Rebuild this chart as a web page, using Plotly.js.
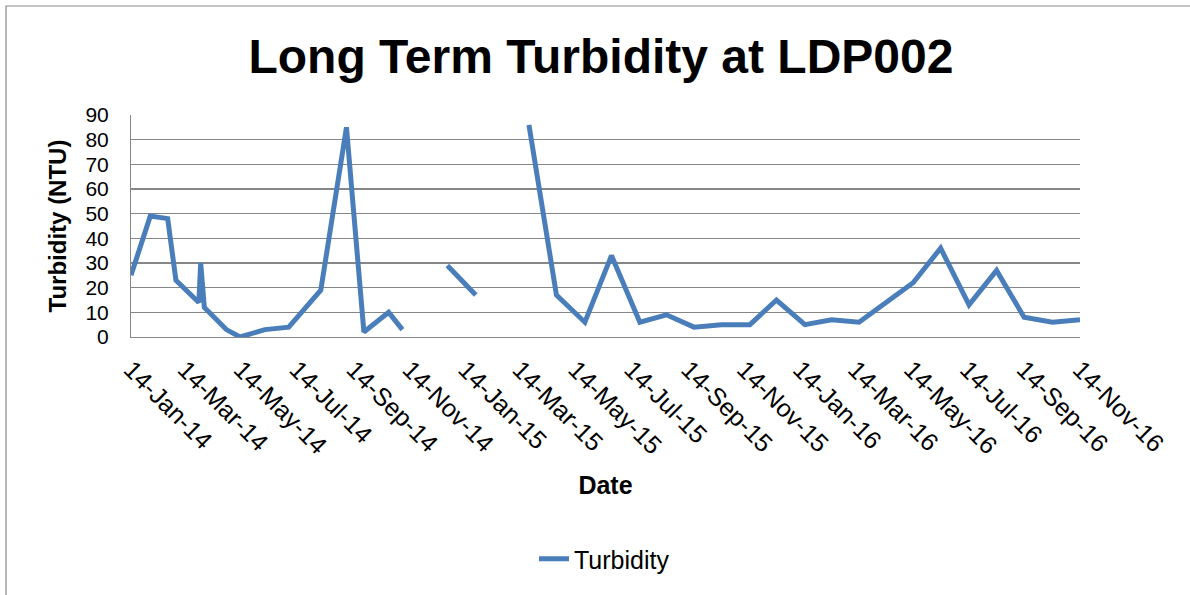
<!DOCTYPE html>
<html>
<head>
<meta charset="utf-8">
<script src="https://cdn.plot.ly/plotly-3.0.1.min.js"></script>
<style>html,body{margin:0;padding:0;background:#fff;}#chart{width:1190px;height:595px;}</style>
</head>
<body>
<div id="chart"></div>
<script>
// Sample dates (null values mark gaps in the record)
var dates = ['2014-01-14','2014-02-04','2014-02-23','2014-03-04','2014-03-29','2014-03-31','2014-04-04','2014-04-28','2014-05-13','2014-06-09','2014-07-05','2014-08-09','2014-09-06','2014-09-25','2014-10-22','2014-11-06','2014-12-01','2014-12-25','2015-01-25','2015-02-20','2015-03-24','2015-04-23','2015-05-24','2015-06-22','2015-07-23','2015-08-21','2015-09-20','2015-10-20','2015-11-20','2015-12-19','2016-01-19','2016-02-17','2016-03-18','2016-04-16','2016-05-16','2016-06-15','2016-07-16','2016-08-15','2016-09-14','2016-10-15','2016-11-14'];
var turbidity = [25,49,48,23,14,30,12,3,0,3,4,19,85,2,10,3,null,29,17,null,86,17,6,33,6,9,4,5,5,15,5,7,6,14,22,36,13,27,8,6,7];

var xRange = ['2014-01-14','2016-11-14'];
var yRange = [0, 90];

var FONT = 'Liberation Sans, Arial, sans-serif';
var GRID = '#868686';

var trace = {
  x: dates,
  y: turbidity,
  type: 'scatter',
  mode: 'lines',
  name: 'Turbidity',
  connectgaps: false,
  line: {color: '#4a7ebb', width: 5}
};

var layout = {
  width: 1190,
  height: 595,
  margin: {l: 131, r: 110, t: 115, b: 258},
  paper_bgcolor: '#ffffff',
  plot_bgcolor: '#ffffff',
  font: {family: FONT, color: '#000000'},
  title: {
    text: '<b>Long Term Turbidity at LDP002</b>',
    font: {family: FONT, size: 48, color: '#000000'},
    xref: 'container', x: 0.505, xanchor: 'center',
    yref: 'container', y: 0.905, yanchor: 'middle'
  },
  xaxis: {
    type: 'date',
    range: xRange,
    tick0: '2014-01-14',
    dtick: 'M2',
    tickformat: '%d-%b-%y',
    tickangle: 45,
    tickfont: {family: FONT, size: 25, color: '#000000'},
    ticks: '',
    ticklabelstandoff: 7,
    showgrid: false,
    showline: true,
    linecolor: GRID,
    linewidth: 1,
    zeroline: false,
    automargin: false,
    title: {text: '<b>Date</b>', font: {family: FONT, size: 25, color: '#000000'}, standoff: 18}
  },
  yaxis: {
    range: yRange,
    dtick: 10,
    tick0: 0,
    tickfont: {family: FONT, size: 21, color: '#000000'},
    ticks: '',
    ticklabelstandoff: 17,
    showgrid: true,
    gridcolor: GRID,
    gridwidth: 1.3,
    showline: true,
    linecolor: GRID,
    linewidth: 1,
    zeroline: true,
    zerolinecolor: GRID,
    zerolinewidth: 1.3,
    automargin: false,
    title: {text: '<b>Turbidity (NTU)</b>', font: {family: FONT, size: 24, color: '#000000'}, standoff: 12}
  },
  showlegend: true,
  legend: {
    orientation: 'h',
    xref: 'container', x: 0.508, xanchor: 'center',
    yref: 'container', y: 0.0605, yanchor: 'middle',
    font: {family: FONT, size: 25, color: '#000000'},
    bgcolor: 'rgba(0,0,0,0)'
  },
  shapes: [{
    type: 'rect', xref: 'paper', yref: 'paper',
    x0: -0.1317, x1: 1.2, y0: -1.3, y1: 1.491,
    line: {color: '#898989', width: 1.2},
    fillcolor: 'rgba(0,0,0,0)',
    layer: 'below'
  }]
};

Plotly.newPlot('chart', [trace], layout, {staticPlot: true, displayModeBar: false});
</script>
</body>
</html>
